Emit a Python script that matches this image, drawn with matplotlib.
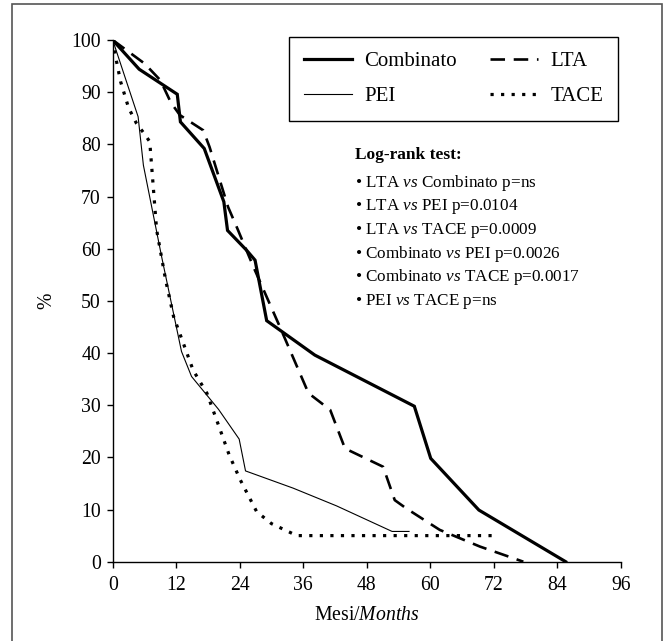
import matplotlib
matplotlib.use('Agg')
import matplotlib.pyplot as plt
from matplotlib.patches import Rectangle

plt.rcParams['font.family'] = ['Liberation Serif', 'DejaVu Serif']
plt.rcParams['mathtext.fontset'] = 'custom'
plt.rcParams['mathtext.rm'] = 'Liberation Serif'
plt.rcParams['mathtext.it'] = 'Liberation Serif:italic'
plt.rcParams['mathtext.bf'] = 'Liberation Serif:bold'

# survival curves (months, %)
comb_months = [0, 5, 12.2, 12.8, 17.3, 21, 21.7, 25.3, 26.9, 29.1, 38.2, 57, 60.1, 69.2, 85.6]
comb_pct = [100, 94.4, 89.6, 84.3, 79.2, 69, 63.5, 59.7, 57.8, 46.2, 39.6, 29.8, 19.8, 9.9, 0]

lta_months = [0, 6, 9, 11, 12.7, 17.1, 18.3, 21.8, 23.5, 26.6, 31.6, 37, 41.1, 43.9,
              51.1, 53.3, 55.5, 61.8, 69.4, 77.6]
lta_pct = [100, 95.5, 92.3, 88, 85.6, 82.7, 79.5, 68, 64, 56.5, 45, 32.3, 29.1, 21.7,
           18.2, 11.8, 10.2, 6.1, 2.9, 0]

pei_months = [0, 4.8, 5.8, 9.3, 13, 14.9, 20, 23.9, 25.1, 34.1, 42.3, 52.8, 56]
pei_pct = [100, 85.3, 76, 58.2, 40.3, 35.5, 29.2, 23.5, 17.4, 14.1, 10.7, 5.8, 5.8]

tace_months = [0, 0.7, 1.5, 3, 4.5, 6, 7, 8.3, 10, 11.5, 13.3, 15.2, 17.8, 19.7, 22,
               24.1, 27.2, 30, 34.8, 72.2]
tace_pct = [100, 96, 92, 87, 84, 82, 80.5, 63.6, 54, 47, 42, 36.7, 32.3, 27, 20.5,
            15.7, 9.6, 7.3, 5, 5]

x_ticks = [0, 12, 24, 36, 48, 60, 72, 84, 96]
y_ticks = [0, 10, 20, 30, 40, 50, 60, 70, 80, 90, 100]

test_title = 'Log-rank test:'
test_lines = [
    ('LTA', 'Combinato', 'p=ns'),
    ('LTA', 'PEI', 'p=0.0104'),
    ('LTA', 'TACE', 'p=0.0009'),
    ('Combinato', 'PEI', 'p=0.0026'),
    ('Combinato', 'TACE', 'p=0.0017'),
    ('PEI', 'TACE', 'p=ns'),
]

W, H = 664, 641
fig = plt.figure(figsize=(W / 100, H / 100), dpi=100)
ax = fig.add_axes([112.7 / W, 1 - 561.7 / H, 508 / W, 521.7 / H])

# outer frame (open at the bottom edge of the picture)
fig.patches.append(Rectangle((12 / W, -0.05), 649.5 / W, 1.05 - 4 / H, transform=fig.transFigure,
                             fill=False, edgecolor='#555555', linewidth=1.2))

l_comb, = ax.plot(comb_months, comb_pct, color='black', lw=2.3, label='Combinato',
                  solid_joinstyle='miter')
l_lta, = ax.plot(lta_months, lta_pct, color='black', lw=1.9, dashes=(5.5, 3.3), label='LTA')
l_pei, = ax.plot(pei_months, pei_pct, color='black', lw=0.8, label='PEI')
l_tace, = ax.plot(tace_months, tace_pct, color='black', lw=2.3, dashes=(1, 2.3), label='TACE')

ax.set_xlim(0, 96)
ax.set_ylim(0, 100)
ax.set_xticks(x_ticks)
ax.set_yticks(y_ticks)
ax.spines['top'].set_visible(False)
ax.spines['right'].set_visible(False)
for s in ('left', 'bottom'):
    ax.spines[s].set_linewidth(1.0)
ax.tick_params(direction='out', length=4.5, width=1.0, labelsize=14.2, pad=4)
ax.tick_params(axis='x', pad=5.5)
ax.set_xlabel('Mesi/$\\mathit{Months}$', fontsize=14.2, labelpad=8)
ax.set_ylabel('%', fontsize=14.2, labelpad=11)

leg = ax.legend([l_comb, l_pei, l_lta, l_tace], ['Combinato', 'PEI', 'LTA', 'TACE'],
                ncol=2, loc='upper left', bbox_to_anchor=(289 / W, 1 - 37 / H),
                bbox_transform=fig.transFigure, fontsize=15, fancybox=False,
                edgecolor='black', framealpha=1, handlelength=2.3, handletextpad=0.6,
                columnspacing=1.6, labelspacing=0.75, borderpad=0.7, borderaxespad=0)
leg.get_frame().set_linewidth(1.0)

fig.text(355 / W, 1 - 155 / H, test_title, fontsize=12.5, fontweight='bold', va='center')
for i, (a, b, p) in enumerate(test_lines):
    y = 1 - (182.7 + i * 23.7) / H
    fig.text(355 / W, y, '\u2022 ' + a + ' $\\mathit{vs}$ ' + b + ' ' + p,
             fontsize=12.3, va='center')

fig.savefig('out.png', dpi=100)
